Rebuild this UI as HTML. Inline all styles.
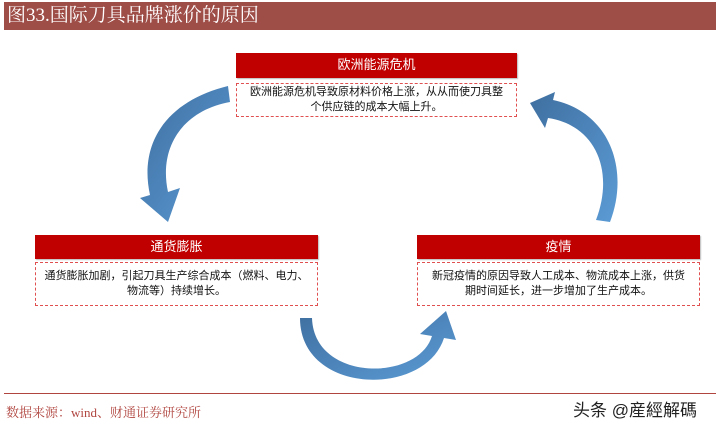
<!DOCTYPE html>
<html><head><meta charset="utf-8"><style>
body{margin:0;width:716px;height:427px;background:#fff;position:relative;overflow:hidden;font-family:"Liberation Sans","Noto Sans CJK SC",sans-serif}
.bar{position:absolute;left:4px;top:2px;width:712px;height:28px;background:#9e4d47;color:#fff;font-family:"Liberation Serif","Noto Serif CJK SC",serif;font-size:19px;line-height:28px;padding-left:3px;box-sizing:border-box}
.h{position:absolute;background:#c00000;color:#fff;font-size:13px;text-align:center;line-height:24px;box-shadow:1px 1px 1px #bbb}
.d{position:absolute;border:1.3px dashed #e05050;box-sizing:border-box;font-size:11px;line-height:15px;color:#111;text-align:center;display:flex;align-items:center;justify-content:center;padding:0;white-space:nowrap}
.src{position:absolute;left:6px;top:402px;font-family:"Liberation Serif","Noto Serif CJK SC",serif;font-size:13px;color:#b0453f}
.wm{position:absolute;left:573px;top:396px;font-size:17px;color:#222}
</style></head><body>
<div class="bar">图33.国际刀具品牌涨价的原因</div>
<div class="h" style="left:236px;top:53px;width:281px;height:25px">欧洲能源危机</div>
<div class="d" style="left:236px;top:83px;width:281px;height:34px">欧洲能源危机导致原材料价格上涨，从从而使刀具整<br>个供应链的成本大幅上升。</div>
<div class="h" style="left:35px;top:235px;width:283px;height:24px">通货膨胀</div>
<div class="d" style="left:35px;top:262px;width:283px;height:44px">通货膨胀加剧，引起刀具生产综合成本（燃料、电力、<br>物流等）持续增长。</div>
<div class="h" style="left:417px;top:235px;width:283px;height:24px">疫情</div>
<div class="d" style="left:417px;top:262px;width:283px;height:44px">新冠疫情的原因导致人工成本、物流成本上涨，供货<br>期时间延长，进一步增加了生产成本。</div>
<svg width="716" height="427" style="position:absolute;left:0;top:0">
<defs><linearGradient id="g" x1="0" y1="0" x2="1" y2="1"><stop offset="0" stop-color="#3f6fa0"/><stop offset="1" stop-color="#5b9bd5"/></linearGradient></defs>
<path d="M228,86 C170,100 138,140 150,195 L140,198 L168,222 L180,188 L168,192 C158,145 185,110 230,102 Z" fill="url(#g)"/>
<path d="M530,103 L555,92 L553,100 C610,112 630,170 610,222 L596,220 C615,170 595,125 548,118 L545,128 Z" fill="url(#g)"/>
<path d="M300,318 C300,395 425,398 444,338 L456,340 L446,311 L420,334 L432,336 C418,382 314,382 312,318 Z" fill="url(#g)"/>
</svg>
<div style="position:absolute;left:4px;top:393px;width:712px;height:1px;background:#b0453f"></div>
<div class="src">数据来源：wind、财通证券研究所</div>
<div class="wm">头条 @産經解碼</div>
</body></html>
